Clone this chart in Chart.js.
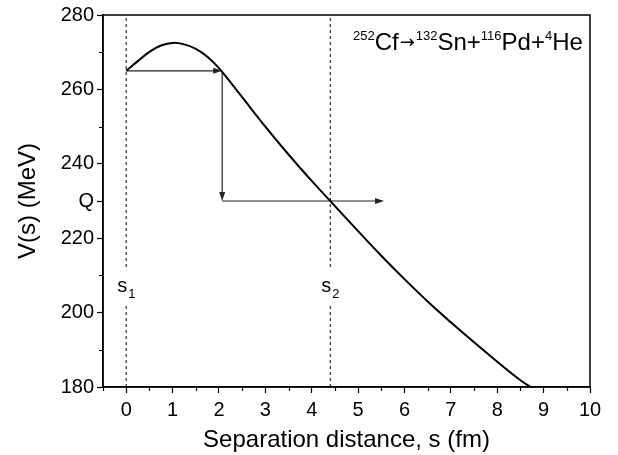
<!DOCTYPE html>
<html>
<head>
<meta charset="utf-8">
<script src="https://cdn.jsdelivr.net/npm/chart.js@4/dist/chart.umd.min.js"></script>
<style>
  body { margin: 0; background: #fff; }
  #wrap { width: 618px; height: 455px; }
</style>
</head>
<body>
<div id="wrap"><canvas id="chart" width="618" height="455"></canvas></div>
<script>
// potential curve V(s)
var sValues = [0, 0.25, 0.5, 0.75, 1, 1.25, 1.5, 1.75, 2, 2.5, 3, 3.5, 4, 4.4, 5, 5.5, 6, 6.5, 7, 7.5, 8, 8.5, 8.72];
var vValues = [265, 267.6, 270.1, 271.8, 272.5, 272.1, 270.9, 268.8, 265.7, 257.9, 250.0, 242.5, 235.4, 230, 221.9, 215.3, 209.0, 203.0, 197.4, 192.0, 186.8, 181.8, 180];

// turning points s1, s2
var turnNames = ["1", "2"];
var turnS = [0, 4.4];

// tunnelling arrows [s, V] -> [s, V]
var arrowFrom = [[0, 265], [2.07, 265], [2.07, 230]];
var arrowTo = [[2.07, 265], [2.07, 230], [5.56, 230]];

// ticks
var xTicks = [-0.5, 0, 0.5, 1, 1.5, 2, 2.5, 3, 3.5, 4, 4.5, 5, 5.5, 6, 6.5, 7, 7.5, 8, 8.5, 9, 9.5, 10];
var yTicks = [180, 190, 200, 210, 220, 230, 240, 250, 260, 270, 280];
var yTickLabels = ["180", "", "200", "", "220", "Q", "240", "", "260", "", "280"];

// reaction text: [superscript, symbol] pairs
var reactionParts = [["252", "Cf"], ["", "\u2192"], ["132", "Sn+"], ["116", "Pd+"], ["4", "He"]];

var FONT = "'Liberation Sans', Arial, sans-serif";

var curve = [];
for (var i = 0; i < sValues.length; i++) curve.push({x: sValues[i], y: vValues[i]});

var datasets = [{
  data: curve,
  borderColor: "#000",
  borderWidth: 2,
  pointRadius: 0,
  tension: 0.4,
  fill: false
}];
turnS.forEach(function(s){
  datasets.push({
    data: [{x: s, y: 180}, {x: s, y: 280}],
    borderColor: "#000",
    borderWidth: 1,
    borderDash: [3, 3],
    pointRadius: 0,
    fill: false
  });
});

var extras = {
  id: "extras",
  afterDatasetsDraw: function(chart){
    var c = chart.ctx, a = chart.chartArea;
    var xs = chart.scales.x, ys = chart.scales.y;
    c.save();

    // box frame
    c.strokeStyle = "#000";
    c.lineWidth = 1.5;
    c.strokeRect(a.left, a.top, a.right - a.left, a.bottom - a.top);

    // minor ticks
    c.lineWidth = 1.2;
    c.beginPath();
    xTicks.forEach(function(v){
      if (Number.isInteger(v)) return;
      var px = Math.round(xs.getPixelForValue(v)) + 0.5;
      c.moveTo(px, a.bottom); c.lineTo(px, a.bottom + 4);
    });
    yTicks.forEach(function(v, i){
      if (yTickLabels[i] !== "") return;
      var py = Math.round(ys.getPixelForValue(v)) + 0.5;
      c.moveTo(a.left, py); c.lineTo(a.left - 4, py);
    });
    c.stroke();

    // arrows
    c.strokeStyle = "#222";
    c.fillStyle = "#222";
    c.lineWidth = 1.2;
    for (var k = 0; k < arrowFrom.length; k++) {
      var x0 = xs.getPixelForValue(arrowFrom[k][0]), y0 = ys.getPixelForValue(arrowFrom[k][1]);
      var x1 = xs.getPixelForValue(arrowTo[k][0]), y1 = ys.getPixelForValue(arrowTo[k][1]);
      var ang = Math.atan2(y1 - y0, x1 - x0);
      c.beginPath(); c.moveTo(x0, y0); c.lineTo(x1 - 6 * Math.cos(ang), y1 - 6 * Math.sin(ang)); c.stroke();
      c.beginPath();
      c.moveTo(x1, y1);
      c.lineTo(x1 - 9 * Math.cos(ang) + 3 * Math.sin(ang), y1 - 9 * Math.sin(ang) - 3 * Math.cos(ang));
      c.lineTo(x1 - 9 * Math.cos(ang) - 3 * Math.sin(ang), y1 - 9 * Math.sin(ang) + 3 * Math.cos(ang));
      c.closePath(); c.fill();
    }

    // s1, s2 labels
    c.textBaseline = "alphabetic";
    turnS.forEach(function(s, i){
      var px = xs.getPixelForValue(s);
      var base = ys.getPixelForValue(205.5);
      c.fillStyle = "#fff";
      c.fillRect(px - 2, base - 22, 4, 34);
      c.fillStyle = "#000";
      c.font = "20px " + FONT;
      c.textAlign = "right";
      c.fillText("s", px + 1, base);
      c.font = "13px " + FONT;
      c.textAlign = "left";
      c.fillText(turnNames[i], px + 2, base + 6);
    });

    // reaction annotation
    var tx = 353, ty = 50;
    c.fillStyle = "#000";
    c.textAlign = "left";
    reactionParts.forEach(function(p){
      if (p[0]) {
        c.font = "13px " + FONT;
        c.fillText(p[0], tx, ty - 10);
        tx += c.measureText(p[0]).width;
      }
      if (p[1] === "\u2192") {
        c.font = "18px 'DejaVu Sans', sans-serif";
        c.fillText(p[1], tx + 1, ty - 2);
        tx += c.measureText(p[1]).width + 2;
      } else {
        c.font = "24px " + FONT;
        c.fillText(p[1], tx, ty);
        tx += c.measureText(p[1]).width;
      }
    });
    c.restore();
  }
};

new Chart(document.getElementById("chart"), {
  type: "line",
  data: {datasets: datasets},
  plugins: [extras],
  options: {
    responsive: false,
    animation: false,
    devicePixelRatio: 1,
    layout: {padding: {left: 0, right: 28, top: 15, bottom: 0}},
    plugins: {legend: {display: false}, tooltip: {enabled: false}},
    scales: {
      x: {
        type: "linear",
        min: -0.5,
        max: 10,
        afterBuildTicks: function(scale){ scale.ticks = xTicks.map(function(v){ return {value: v}; }); },
        afterFit: function(scale){ scale.height = 68; },
        ticks: {
          autoSkip: false,
          maxRotation: 0,
          padding: 5,
          color: "#000",
          font: {family: FONT, size: 20},
          callback: function(v){ return Number.isInteger(v) ? String(v) : ""; }
        },
        grid: {
          drawOnChartArea: false,
          tickLength: 6,
          tickWidth: 1.2,
          tickColor: function(ctx){ return ctx.tick && Number.isInteger(ctx.tick.value) ? "#000" : "rgba(0,0,0,0)"; }
        },
        border: {color: "#000", width: 1.5},
        title: {display: true, text: "Separation distance, s (fm)", color: "#000", font: {family: FONT, size: 24}, padding: {top: 0, bottom: 0}}
      },
      y: {
        min: 180,
        max: 280,
        afterBuildTicks: function(scale){ scale.ticks = yTicks.map(function(v){ return {value: v}; }); },
        afterFit: function(scale){ scale.width = 103; },
        ticks: {
          autoSkip: false,
          padding: 3,
          color: "#000",
          font: {family: FONT, size: 20},
          callback: function(v, i){ return yTickLabels[i]; }
        },
        grid: {
          drawOnChartArea: false,
          tickLength: 6,
          tickWidth: 1.2,
          tickColor: function(ctx){ return yTickLabels[ctx.index] !== "" ? "#000" : "rgba(0,0,0,0)"; }
        },
        border: {color: "#000", width: 1.5},
        title: {display: true, text: "V(s) (MeV)", color: "#000", font: {family: FONT, size: 24}, padding: {top: 14, bottom: 0}}
      }
    }
  }
});
</script>
</body>
</html>
